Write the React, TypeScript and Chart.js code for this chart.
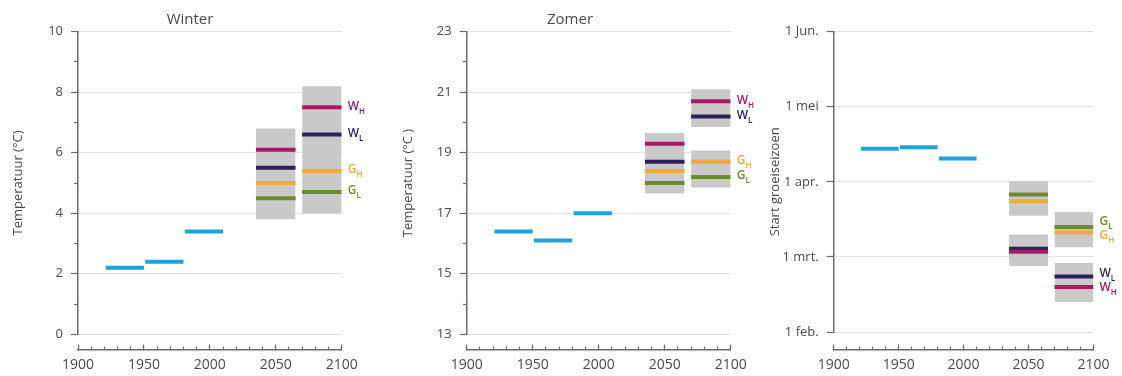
import React, { useEffect, useRef } from 'react';
import { Chart, registerables } from 'chart.js';

Chart.register(...registerables);

const FONT = "'Open Sans', 'DejaVu Sans', sans-serif";
const TEXT = '#4a4a4a';
const AXIS = '#6b6b6b';
const GRID = '#e2e2e2';
const OBS_COLOR = '#1ea2da';
const BAND_COLOR = '#c9c9c9';
const SCENARIO_COLORS = ['#a61a62', '#2f1f5b', '#f2a93b', '#6e8a2f'];

// Observed 30-year periods (blue) and the two projection periods (grey bands)
const OBS_START = [1921, 1951, 1981];
const OBS_END = [1950, 1980, 2010];
const PROJ_START = [2035, 2070];
const PROJ_END = [2065, 2100];

// Scenario order: W_H, W_L, G_H, G_L
const SCENARIO_MAIN = ['W', 'W', 'G', 'G'];
const SCENARIO_SUB = ['H', 'L', 'H', 'L'];

const X_TICKS = [1900, 1950, 2000, 2050, 2100];
const X_MINOR_TICKS = [1900, 1910, 1920, 1930, 1940, 1950, 1960, 1970, 1980, 1990, 2000,
  2010, 2020, 2030, 2040, 2050, 2060, 2070, 2080, 2090, 2100];

// Winter temperature (°C)
const WINTER_OBS = [2.2, 2.4, 3.4];
const WINTER_2050 = [6.1, 5.5, 5.0, 4.5];
const WINTER_2085 = [7.5, 6.6, 5.4, 4.7];
const WINTER_BAND_PERIOD = [0, 1];
const WINTER_BAND_LOW = [3.8, 4.0];
const WINTER_BAND_HIGH = [6.8, 8.2];
const WINTER_TICKS = [0, 2, 4, 6, 8, 10];
const WINTER_MINOR = [1, 3, 5, 7, 9];

// Summer temperature (°C)
const SUMMER_OBS = [16.4, 16.1, 17.0];
const SUMMER_2050 = [19.3, 18.7, 18.4, 18.0];
const SUMMER_2085 = [20.7, 20.2, 18.7, 18.2];
const SUMMER_BAND_PERIOD = [0, 1, 1];
const SUMMER_BAND_LOW = [17.65, 19.85, 17.85];
const SUMMER_BAND_HIGH = [19.65, 21.1, 19.07];
const SUMMER_TICKS = [13, 15, 17, 19, 21, 23];
const SUMMER_MINOR = [14, 16, 18, 20, 22];

// Start of the growing season, in months after 1 February
const SEASON_OBS = [2.44, 2.46, 2.31];
const SEASON_2050 = [1.07, 1.11, 1.74, 1.83];
const SEASON_2085 = [0.6, 0.74, 1.33, 1.4];
const SEASON_BAND_PERIOD = [0, 0, 1, 1];
const SEASON_BAND_LOW = [0.88, 1.55, 0.4, 1.13];
const SEASON_BAND_HIGH = [1.3, 2.01, 0.92, 1.6];
const SEASON_TICKS = [0, 1, 2, 3, 4];
const SEASON_TICK_LABELS = ['1 feb.', '1 mrt.', '1 apr.', '1 mei', '1 Jun.'];

const HEIGHT = 376;

type PanelSpec = {
  key: string;
  title?: string;
  yTitle: string;
  obs: number[];
  mid: number[];
  end: number[];
  bandPeriod: number[];
  bandLow: number[];
  bandHigh: number[];
  yTicks: number[];
  yMinor?: number[];
  yLabels?: string[];
  yMin: number;
  yMax: number;
  axisAt: number;
  left: number;
  width: number;
  axisLeft: number;
  padRight: number;
  padBottom: number;
  yTitlePad: number;
};

const PANELS: PanelSpec[] = [
  {
    key: 'winter', title: 'Winter', yTitle: 'Temperatuur (°C)',
    obs: WINTER_OBS, mid: WINTER_2050, end: WINTER_2085,
    bandPeriod: WINTER_BAND_PERIOD, bandLow: WINTER_BAND_LOW, bandHigh: WINTER_BAND_HIGH,
    yTicks: WINTER_TICKS, yMinor: WINTER_MINOR, yMin: 0, yMax: 10, axisAt: -0.52,
    left: 0, width: 380, axisLeft: 78, padRight: 38.3, padBottom: 41.7, yTitlePad: 10,
  },
  {
    key: 'zomer', title: 'Zomer', yTitle: 'Temperatuur (°C )',
    obs: SUMMER_OBS, mid: SUMMER_2050, end: SUMMER_2085,
    bandPeriod: SUMMER_BAND_PERIOD, bandLow: SUMMER_BAND_LOW, bandHigh: SUMMER_BAND_HIGH,
    yTicks: SUMMER_TICKS, yMinor: SUMMER_MINOR, yMin: 13, yMax: 23, axisAt: 12.48,
    left: 380, width: 380, axisLeft: 86.7, padRight: 29.3, padBottom: 41.7, yTitlePad: 20,
  },
  {
    key: 'groeiseizoen', yTitle: 'Start groeiseizoen',
    obs: SEASON_OBS, mid: SEASON_2050, end: SEASON_2085,
    bandPeriod: SEASON_BAND_PERIOD, bandLow: SEASON_BAND_LOW, bandHigh: SEASON_BAND_HIGH,
    yTicks: SEASON_TICKS, yLabels: SEASON_TICK_LABELS, yMin: 0, yMax: 4, axisAt: -0.24,
    left: 760, width: 362, axisLeft: 73.7, padRight: 27, padBottom: 44, yTitlePad: 7,
  },
];

function segment(x0: number, x1: number, y: number, color: string) {
  return {
    data: [{ x: x0, y }, { x: x1, y }],
    borderColor: color,
    borderWidth: 4,
    borderCapStyle: 'butt',
    pointRadius: 0,
    fill: false,
    order: 0,
    xAxisID: 'x',
    yAxisID: 'y',
  };
}

function band(x0: number, x1: number, low: number, high: number) {
  return {
    data: [{ x: x0, y: high }, { x: x1, y: high }],
    borderWidth: 0,
    borderColor: 'rgba(0,0,0,0)',
    backgroundColor: BAND_COLOR,
    pointRadius: 0,
    fill: { value: low },
    order: 1,
    xAxisID: 'x',
    yAxisID: 'y',
  };
}

// Scenario names next to the 2085 lines, nudged apart when they crowd each other
function scenarioLabels(values: number[]) {
  return {
    id: 'scenarioLabels',
    afterDraw(chart: any) {
      const { ctx, scales } = chart;
      const items = values
        .map((v, k) => ({ k, y: scales.y.getPixelForValue(v) }))
        .sort((a, b) => a.y - b.y);
      const gap = 14;
      for (let pass = 0; pass < 8; pass++) {
        for (let i = 1; i < items.length; i++) {
          const d = items[i].y - items[i - 1].y;
          if (d < gap) {
            const push = (gap - d) / 2;
            items[i].y += push;
            items[i - 1].y -= push;
          }
        }
      }
      const x0 = scales.x.getPixelForValue(PROJ_END[1]) + 6;
      ctx.save();
      ctx.textAlign = 'left';
      ctx.textBaseline = 'middle';
      items.forEach(({ k, y }) => {
        ctx.fillStyle = SCENARIO_COLORS[k];
        ctx.font = `600 12px ${FONT}`;
        ctx.fillText(SCENARIO_MAIN[k], x0, y - 1);
        const w = ctx.measureText(SCENARIO_MAIN[k]).width;
        ctx.font = `600 8px ${FONT}`;
        ctx.fillText(SCENARIO_SUB[k], x0 + w, y + 4);
      });
      ctx.restore();
    },
  };
}

function buildConfig(s: PanelSpec): any {
  const datasets: any[] = [];
  s.obs.forEach((v, i) => datasets.push(segment(OBS_START[i], OBS_END[i], v, OBS_COLOR)));
  s.mid.forEach((v, k) => datasets.push(segment(PROJ_START[0], PROJ_END[0], v, SCENARIO_COLORS[k])));
  s.end.forEach((v, k) => datasets.push(segment(PROJ_START[1], PROJ_END[1], v, SCENARIO_COLORS[k])));
  s.bandLow.forEach((lo, i) =>
    datasets.push(band(PROJ_START[s.bandPeriod[i]], PROJ_END[s.bandPeriod[i]], lo, s.bandHigh[i])),
  );

  const scales: any = {
    x: {
      type: 'linear',
      axis: 'x',
      position: { y: s.axisAt },
      min: 1900,
      max: 2100,
      afterBuildTicks: (sc: any) => { sc.ticks = X_TICKS.map((value) => ({ value })); },
      ticks: {
        callback: (v: number) => String(v),
        font: { family: FONT, size: 14 },
        color: TEXT,
        padding: 12.5,
        maxRotation: 0,
        autoSkip: false,
      },
      grid: { drawOnChartArea: false, tickLength: -6, tickColor: AXIS, tickWidth: 1.2 },
      border: { display: true, color: AXIS, width: 1.5 },
    },
    xMinor: {
      type: 'linear',
      axis: 'x',
      position: { y: s.axisAt },
      min: 1900,
      max: 2100,
      afterBuildTicks: (sc: any) => { sc.ticks = X_MINOR_TICKS.map((value) => ({ value })); },
      ticks: { display: false },
      grid: { drawOnChartArea: false, tickLength: -3.5, tickColor: AXIS, tickWidth: 1.2 },
      border: { display: false },
    },
    y: {
      type: 'linear',
      position: 'left',
      min: s.yMin,
      max: s.yMax,
      afterBuildTicks: (sc: any) => { sc.ticks = s.yTicks.map((value) => ({ value })); },
      afterFit: (sc: any) => { sc.width = s.axisLeft; },
      ticks: {
        callback: (v: number) => (s.yLabels ? s.yLabels[s.yTicks.indexOf(v)] : String(v)),
        font: { family: FONT, size: 13 },
        color: TEXT,
        padding: 8,
      },
      grid: { color: GRID, lineWidth: 1, tickLength: 7, tickColor: AXIS, tickWidth: 1.2 },
      border: { display: true, color: AXIS, width: 1.5 },
      title: {
        display: true,
        text: s.yTitle,
        font: { family: FONT, size: 13 },
        color: TEXT,
        padding: { top: s.yTitlePad, bottom: 0 },
      },
    },
    // empty strip on the right that holds the scenario names
    labelStrip: {
      type: 'linear',
      axis: 'y',
      position: 'right',
      display: true,
      min: s.yMin,
      max: s.yMax,
      afterFit: (sc: any) => { sc.width = s.padRight; },
      ticks: { display: false },
      grid: { display: false },
      border: { display: false },
    },
  };

  if (s.yMinor) {
    const minor = s.yMinor;
    scales.yMinor = {
      type: 'linear',
      axis: 'y',
      position: { x: 1900 },
      min: s.yMin,
      max: s.yMax,
      afterBuildTicks: (sc: any) => { sc.ticks = minor.map((value) => ({ value })); },
      ticks: { display: false },
      grid: { drawOnChartArea: false, tickLength: 4, tickColor: AXIS, tickWidth: 1.2 },
      border: { display: false },
    };
  }

  return {
    type: 'line',
    data: { datasets },
    options: {
      animation: false,
      responsive: false,
      maintainAspectRatio: false,
      devicePixelRatio: 1,
      events: [],
      layout: {
        padding: { left: 0, right: 0, top: s.title ? 0 : 31.7, bottom: s.padBottom },
      },
      plugins: {
        legend: { display: false },
        tooltip: { enabled: false },
        title: {
          display: !!s.title,
          text: s.title || '',
          font: { family: FONT, size: 15, weight: 'normal' },
          color: TEXT,
          padding: { top: 10.5, bottom: 3.2 },
        },
      },
      scales,
    },
    plugins: [scenarioLabels(s.end)],
  };
}

function Panel({ spec }: { spec: PanelSpec }) {
  const ref = useRef<HTMLCanvasElement>(null);
  useEffect(() => {
    if (!ref.current) return;
    const chart = new Chart(ref.current, buildConfig(spec));
    return () => chart.destroy();
  }, [spec]);
  return (
    <canvas
      ref={ref}
      width={spec.width}
      height={HEIGHT}
      style={{ position: 'absolute', left: spec.left, top: 0, width: spec.width, height: HEIGHT }}
    />
  );
}

export default function App() {
  return (
    <div style={{ position: 'absolute', left: 0, top: 0, width: 1122, height: HEIGHT, background: '#fff' }}>
      {PANELS.map((p) => (
        <Panel key={p.key} spec={p} />
      ))}
    </div>
  );
}
